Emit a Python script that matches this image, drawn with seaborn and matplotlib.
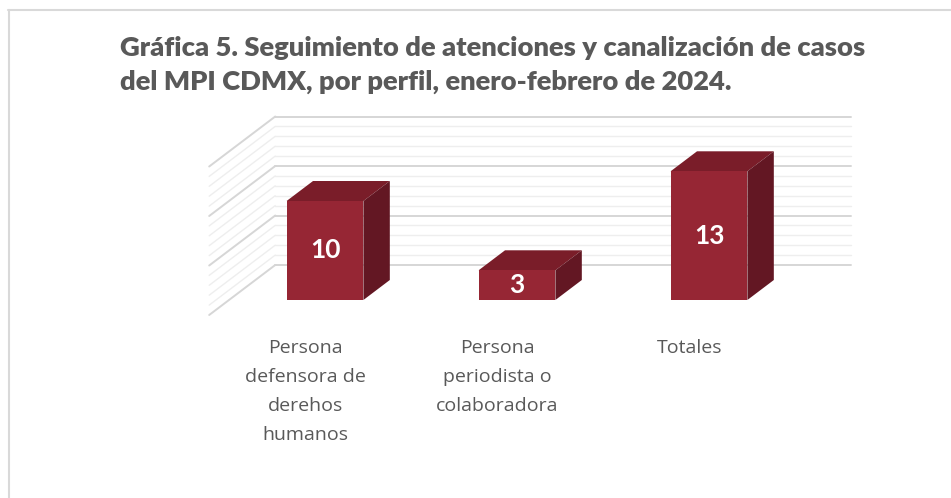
import matplotlib
matplotlib.use("Agg")
import matplotlib.pyplot as plt
from matplotlib.patches import Polygon
from matplotlib.lines import Line2D
import seaborn as sns

categorias = ["Persona\ndefensora de\nderehos\nhumanos",
              "Persona\nperiodista o\ncolaboradora",
              "Totales"]
valores = [10, 3, 13]
etiquetas = ["10", "3", "13"]
y_max = 15
titulo = ("Gráfica 5. Seguimiento de atenciones y canalización de casos\n"
          "del MPI CDMX, por perfil, enero-febrero de 2024.")

FRENTE = "#962634"
TAPA = "#7a1d29"
LADO = "#631723"
GRIS = "#595959"

# profundidad total del piso en unidades de datos (x en categorias, y en valores)
DX, DY = 0.344, 5.05
P_FRENTE, P_FONDO = 0.3, 0.7


def dibujar_fondo(ax):
    x_izq = -0.5
    x_der = len(valores) - 0.5
    for v in range(0, y_max + 1):
        mayor = v % 5 == 0
        color = "#d6d6d6" if mayor else "#eeeeee"
        lw = 1.4 if mayor else 1.0
        yb = v + (P_FONDO) * DY
        ax.plot([x_izq + P_FONDO * DX, x_der + P_FONDO * DX], [yb, yb],
                color=color, lw=lw, zorder=1)
        ax.plot([x_izq - P_FRENTE * DX, x_izq + P_FONDO * DX],
                [v - P_FRENTE * DY, yb], color=color, lw=lw, zorder=1)


def caras_3d(ax):
    ddx = (P_FONDO - P_FRENTE) * DX
    ddy = (P_FONDO - P_FRENTE) * DY
    for p in ax.patches:
        x0, y0 = p.get_x(), p.get_y()
        w, h = p.get_width(), p.get_height()
        x1, y1 = x0 + w, y0 + h
        tapa = Polygon([(x0, y1), (x1, y1), (x1 + ddx, y1 + ddy), (x0 + ddx, y1 + ddy)],
                       closed=True, facecolor=TAPA, edgecolor="none", zorder=3)
        lado = Polygon([(x1, y0), (x1 + ddx, y0 + ddy), (x1 + ddx, y1 + ddy), (x1, y1)],
                       closed=True, facecolor=LADO, edgecolor="none", zorder=3)
        ax.add_patch(tapa)
        ax.add_patch(lado)
        p.set_zorder(4)


def grafica():
    sns.set_theme(style="white")
    fig = plt.figure(figsize=(9.51, 4.98), dpi=100)
    ax = fig.add_axes([0, 0, 1, 1])

    sns.barplot(x=list(range(len(valores))), y=valores, color=FRENTE,
                saturation=1, width=0.4, ax=ax, zorder=4,
                edgecolor="none", linewidth=0)
    caras_3d(ax)
    dibujar_fondo(ax)

    for i, (v, t) in enumerate(zip(valores, etiquetas)):
        ax.text(i, v / 2, t, color="white", fontsize=19, fontweight="bold",
                family=["Lato", "DejaVu Sans"], ha="center", va="center", zorder=5)

    for i, c in enumerate(categorias):
        ax.text(i - P_FRENTE * DX, -3.9, c, color=GRIS, fontsize=14,
                family=["Open Sans", "DejaVu Sans"], ha="center", va="top",
                linespacing=1.8)

    ax.set_xlim(-325 / 192, (951 - 325) / 192)
    ax.set_ylim((300 - 498) / 9.9, 300 / 9.9)
    ax.axis("off")

    fig.text(120 / 951, 1 - 36 / 498, titulo, color=GRIS, fontsize=19.7,
             fontweight="heavy", family=["Lato", "DejaVu Sans"], ha="left",
             va="top", linespacing=1.48)

    fig.add_artist(Line2D([8 / 951, 1], [1 - 10 / 498, 1 - 10 / 498],
                          color="#d9d9d9", lw=1.5))
    fig.add_artist(Line2D([8.5 / 951, 8.5 / 951], [0, 1 - 10 / 498],
                          color="#d9d9d9", lw=1.5))

    fig.savefig("out.png", dpi=100, facecolor="white")


def main():
    grafica()


if __name__ == "__main__":
    main()
